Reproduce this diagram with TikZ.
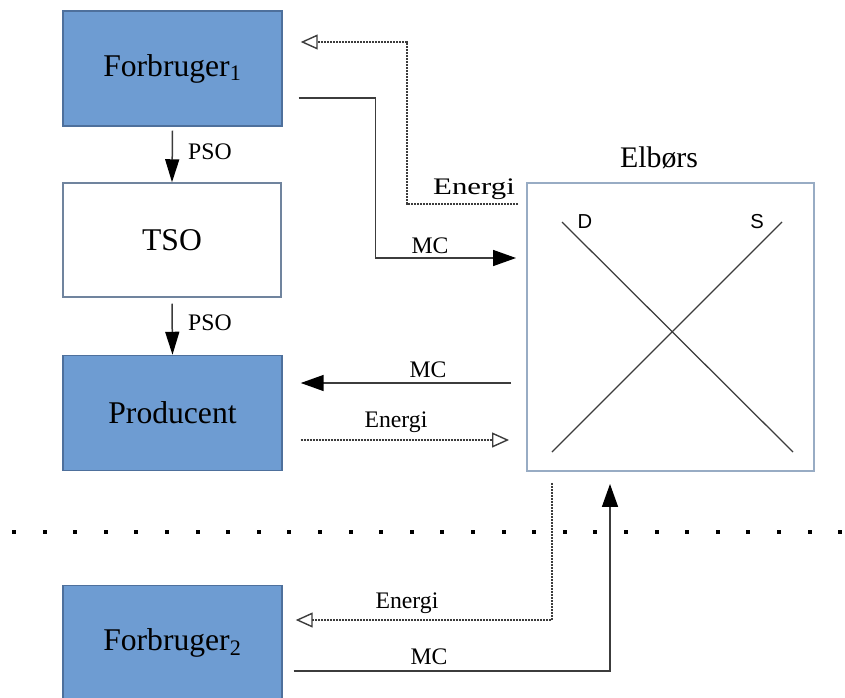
\documentclass[tikz,border=0pt]{standalone}
\usepackage{fontspec}
\setmainfont{Liberation Serif}
\newfontfamily\arialfont{Liberation Sans}
\usepackage{graphicx}
\usetikzlibrary{arrows.meta,calc,positioning}

\definecolor{boxblue}{RGB}{110,156,210}
\definecolor{boxedge}{RGB}{78,112,156}
\definecolor{tsoedge}{RGB}{112,132,158}
\definecolor{elbedge}{RGB}{152,172,196}
\definecolor{linegray}{RGB}{60,60,60}

\tikzset{
    actor/.style={draw=boxedge, fill=boxblue, line width=0.03cm,
        minimum width=4.38cm, minimum height=2.3cm,
        font=\fontsize{18}{22}\selectfont},
    tsobox/.style={draw=tsoedge, fill=white, line width=0.03cm,
        minimum width=4.36cm, minimum height=2.28cm,
        font=\fontsize{18}{22}\selectfont},
    mcline/.style={draw=linegray, line width=0.03cm,
        -{Triangle[length=0.46cm,width=0.32cm,black]}},
    energiline/.style={draw=linegray, line width=0.028cm,
        dash pattern=on 0.04cm off 0.02cm,
        -{Triangle[open,length=0.34cm,width=0.3cm]}},
    lbl/.style={font=\fontsize{13.5}{15}\selectfont, inner sep=0pt}
}

\begin{document}
\begin{tikzpicture}[x=0.02cm, y=-0.02cm]
    \clip (0,0) rectangle (845,697);
    % boxes
    \node[actor] (f1) at (172.5,68.5) {Forbruger\textsubscript{1}};
    \node[tsobox] (tso) at (172,240) {TSO};
    \node[actor] (prod) at (172.5,413) {Producent};
    \node[actor] (f2) at (172.5,643) {Forbruger\textsubscript{2}};
    \node[draw=elbedge, line width=0.04cm, minimum width=5.74cm, minimum height=5.76cm]
        (elb) at (670.5,327) {};
    \node[font=\fontsize{17}{20}\selectfont] (elbtitle) at (659,158) {Elbørs};

    % demand and supply
    \draw[linegray, line width=0.025cm] ($(elb.north west)+(36,40)$) -- ($(elb.north west)+(267,270)$);
    \draw[linegray, line width=0.025cm] ($(elb.north west)+(26,270)$) -- ($(elb.north west)+(256,40)$);
    \node[font=\arialfont\fontsize{11.5}{13}\selectfont] (dlab) at (585,222) {D};
    \node[font=\arialfont\fontsize{11.5}{13}\selectfont] (slab) at (757,222) {S};

    % PSO
    \draw[mcline, -{Triangle[length=0.46cm,width=0.28cm,black]}] ($(f1.south)+(0,4)$) -- (tso.north);
    \draw[mcline, -{Triangle[length=0.46cm,width=0.28cm,black]}] ($(tso.south)+(0,6)$) -- (prod.north);
    \node[lbl] (pso1) at (210,152) {PSO};
    \node[lbl] (pso2) at (210,323) {PSO};

    % Forbruger 1
    \draw[energiline] ($(elb.north west)+(-8,22)$) -- ++(-111,0) |- ($(f1.east)+(18,-26.5)$);
    \draw[mcline] ($(f1.east)+(16,29.5)$) -| ++(77,0) |- ($(elb.west)+(-10,-69)$);
    \node[lbl] (energi1) at (474,189) {\scalebox{1.3}[1]{Energi}};
    \node[lbl] (mc1) at (430,246) {MC};

    % Producent
    \draw[mcline] ($(elb.west)+(-15,56)$) -- ($(prod.east)+(18,-30)$);
    \draw[energiline] ($(prod.east)+(18,27)$) -- ($(elb.west)+(-17,113)$);
    \node[lbl] (mc2) at (428,370) {MC};
    \node[lbl] (energi2) at (396,422) {Energi};

    % separator
    \foreach \k in {0,...,27}
        \fill (14+30.6*\k-2,530) rectangle ++(4,4);

    % Forbruger 2
    \draw[energiline] ($(elb.south)+(-118.5,11)$) |- ($(f2.east)+(13,-23)$);
    \draw[mcline] ($(f2.east)+(11,28)$) -| ($(elb.south)+(-60.5,12)$);
    \node[lbl] (energi3) at (407,603) {Energi};
    \node[lbl] (mc3) at (429,657) {MC};
\end{tikzpicture}
\end{document}
